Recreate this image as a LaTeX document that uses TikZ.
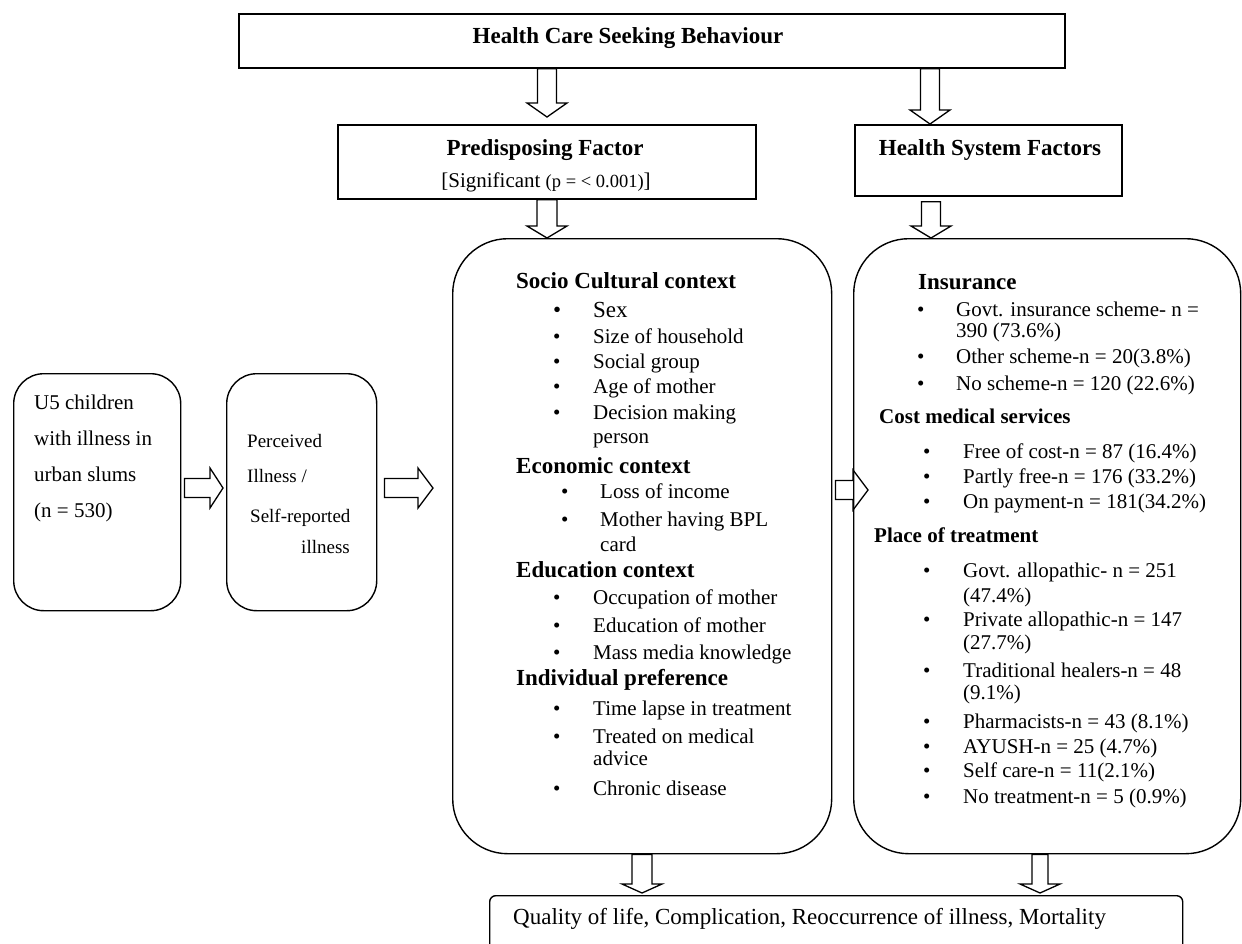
\documentclass[tikz,border=0pt]{standalone}
\usepackage{fontspec}
\setmainfont{Liberation Serif}
\usetikzlibrary{calc}
\newcommand{\FtItem}{\fontsize{21}{25}\selectfont}
\newcommand{\FtHead}{\fontsize{23}{27}\selectfont\bfseries}
\newcommand{\FtHeadS}{\fontsize{21}{25}\selectfont\bfseries}
\newcommand{\Bul}[1]{\makebox[#1][l]{\textbullet}}
\newcommand{\BlkDown}[4]{\draw[blk] let \p1=#1, \p2=#2 in
  (\x1-#4pt,\y1) -- (\x1-#4pt,\y2+#3pt) -- (\x1-20pt,\y2+#3pt) -- (\x1,\y2) --
  (\x1+20pt,\y2+#3pt) -- (\x1+#4pt,\y2+#3pt) -- (\x1+#4pt,\y1) -- cycle;}
\newcommand{\BlkRight}[3]{\draw[blk] let \p1=#1, \p2=#2 in
  (\x1,\y1-9.5pt) -- (\x2-#3pt,\y1-9.5pt) -- (\x2-#3pt,\y1-20pt) -- (\x2,\y1) --
  (\x2-#3pt,\y1+20pt) -- (\x2-#3pt,\y1+9.5pt) -- (\x1,\y1+9.5pt) -- cycle;}
\tikzset{
  sq/.style={draw, line width=1.8pt, rectangle, inner sep=0pt, anchor=north west},
  rbig/.style={draw, line width=1.4pt, rectangle, rounded corners=55pt, inner sep=0pt, anchor=north west},
  rsm/.style={draw, line width=1.4pt, rectangle, rounded corners=30pt, inner sep=0pt, anchor=north west},
  rbot/.style={draw, line width=1.4pt, rectangle, rounded corners=6pt, inner sep=0pt, anchor=north west},
  blk/.style={draw, line width=1.3pt, line join=miter},
  txt/.style={anchor=base west, inner sep=0pt, font=\FtItem},
  hd/.style={anchor=base west, inner sep=0pt, font=\FtHead},
  hds/.style={anchor=base west, inner sep=0pt, font=\FtHeadS},
}
\begin{document}
\begin{tikzpicture}[x=1pt,y=-1pt]
\useasboundingbox (0,0) rectangle (1242,943);
% ---------- boxes ----------
\node[sq, minimum width=826pt, minimum height=54pt] (top) at (238,13) {};
\node[sq, minimum width=418pt, minimum height=74pt] (pd) at (337,124) {};
\node[sq, minimum width=267pt, minimum height=71pt] (hsf) at (854,124) {};
\node[rsm, minimum width=167pt, minimum height=237pt] (b1) at (13,373) {};
\node[rsm, minimum width=150pt, minimum height=237pt] (b2) at (226,373) {};
\node[rbig, minimum width=379pt, minimum height=615pt] (mid) at (452,238) {};
\node[rbig, minimum width=387pt, minimum height=615pt] (rt) at (853,238) {};
\node[rbot, minimum width=693pt, minimum height=75pt] (bot) at (489,895) {};
% ---------- titles ----------
\node[anchor=base, inner sep=0pt, font=\FtHead] (topt) at (628,43) {Health Care Seeking Behaviour};
\node[anchor=base, inner sep=0pt, font=\FtHead] (pdt) at (545,155) {Predisposing Factor};
\node[anchor=base, inner sep=0pt, font=\FtItem] (pds) at (546,187) {[Significant {\fontsize{18.5}{22}\selectfont(p = < 0.001)}]};
\node[anchor=base, inner sep=0pt, font=\FtHead] (hsft) at (990,155) {Health System Factors};
% ---------- left boxes ----------
\node[txt] (l1) at (34,409) {U5 children};
\node[txt] (l2) at (34,445) {with illness in};
\node[txt] (l3) at (34,481) {urban slums};
\node[txt] (l4) at (34,517) {(n = 530)};
\node[txt, font=\fontsize{19}{23}\selectfont] (p1) at (247,447) {Perceived};
\node[txt, font=\fontsize{19}{23}\selectfont] (p2) at (247,482) {Illness /};
\node[txt, font=\fontsize{19}{23}\selectfont] (p3) at (250,522) {Self-reported};
\node[anchor=base east, inner sep=0pt, font=\fontsize{19}{23}\selectfont] (p4) at (350,553) {illness};
% ---------- middle box ----------
\node[hd] (h1) at (516,288) {Socio Cultural context};
\node[txt, font=\fontsize{23}{27}\selectfont] (s1) at (553,317) {\Bul{40pt}Sex};
\foreach \t/\y [count=\i] in {Size of household/343, Social group/368, Age of mother/393, Decision making/419}
  \node[txt] (s\i x) at (553,\y) {\Bul{40pt}\t};
\node[txt] (s6) at (593,443) {person};
\node[hd] (h2) at (516,473) {Economic context};
\node[txt] (e1) at (561,498) {\Bul{39pt}Loss of income};
\node[txt] (e2) at (561,526) {\Bul{39pt}Mother having BPL};
\node[txt] (e3) at (600,551) {card};
\node[hd] (h3) at (516,577) {Education context};
\foreach \t/\y [count=\i] in {Occupation of mother/604, Education of mother/632, Mass media knowledge/659}
  \node[txt] (ed\i) at (553,\y) {\Bul{40pt}\t};
\node[hd] (h4) at (516,685) {Individual preference};
\node[txt] (i1) at (553,715) {\Bul{40pt}Time lapse in treatment};
\node[txt] (i2) at (553,743) {\Bul{40pt}Treated on medical};
\node[txt] (i3) at (593,765) {advice};
\node[txt] (i4) at (553,795) {\Bul{40pt}Chronic disease};
% ---------- right box ----------
\node[hd] (r1) at (918,289) {Insurance};
\node[txt] (ri1) at (917,316) {\Bul{39pt}Govt. insurance scheme- n =};
\node[txt] (ri2) at (956,337) {390 (73.6\%)};
\node[txt] (ri3) at (917,363) {\Bul{39pt}Other scheme-n = 20(3.8\%)};
\node[txt] (ri4) at (917,390) {\Bul{39pt}No scheme-n = 120 (22.6\%)};
\node[hds] (r2) at (879,423) {Cost medical services};
\node[txt] (rc1) at (923,458) {\Bul{40pt}Free of cost-n = 87 (16.4\%)};
\node[txt] (rc2) at (923,483) {\Bul{40pt}Partly free-n = 176 (33.2\%)};
\node[txt] (rc3) at (923,508) {\Bul{40pt}On payment-n = 181(34.2\%)};
\node[hds] (r3) at (874,542) {Place of treatment};
\node[txt] (rp1) at (923,577) {\Bul{40pt}Govt. allopathic- n = 251};
\node[txt] (rp2) at (963,602) {(47.4\%)};
\node[txt] (rp3) at (923,626) {\Bul{40pt}Private allopathic-n = 147};
\node[txt] (rp4) at (963,649) {(27.7\%)};
\node[txt] (rp5) at (923,677) {\Bul{40pt}Traditional healers-n = 48};
\node[txt] (rp6) at (963,699) {(9.1\%)};
\node[txt] (rp7) at (923,728) {\Bul{40pt}Pharmacists-n = 43 (8.1\%)};
\node[txt] (rp8) at (923,753) {\Bul{40pt}AYUSH-n = 25 (4.7\%)};
\node[txt] (rp9) at (923,777) {\Bul{40pt}Self care-n = 11(2.1\%)};
\node[txt] (rp10) at (923,803) {\Bul{40pt}No treatment-n = 5 (0.9\%)};
% ---------- bottom ----------
\node[txt, font=\fontsize{23}{27}\selectfont] (bott) at (513,924) {Quality of life, Complication, Reoccurrence of illness, Mortality};
% ---------- block arrows ----------
\BlkDown{(top.south -| 547,0)}{($(pd.north -| 547,0)+(0,-7)$)}{14}{9.5}
\BlkDown{(top.south -| 930,0)}{(hsf.north -| 930,0)}{14}{9.5}
\BlkDown{(pd.south -| 547,0)}{(mid.north -| 547,0)}{12}{10}
\BlkDown{($(hsf.south -| 931,0)+(0,5)$)}{(rt.north -| 931,0)}{12}{9.5}
\BlkDown{(mid.south -| 642,0)}{($(bot.north -| 642,0)+(0,-2)$)}{9}{10}
\BlkDown{(rt.south -| 1040,0)}{($(bot.north -| 1040,0)+(0,-2)$)}{9}{8}
\BlkRight{($(b1.east |- 0,488)+(3,0)$)}{($(b2.west |- 0,488)+(-3,0)$)}{13}
\BlkRight{($(b2.east |- 0,488)+(7,0)$)}{($(mid.west |- 0,488)+(-19,0)$)}{15}
\BlkRight{($(mid.east |- 0,490)+(3,0)$)}{($(rt.west |- 0,490)+(15,0)$)}{15}
\end{tikzpicture}
\end{document}
